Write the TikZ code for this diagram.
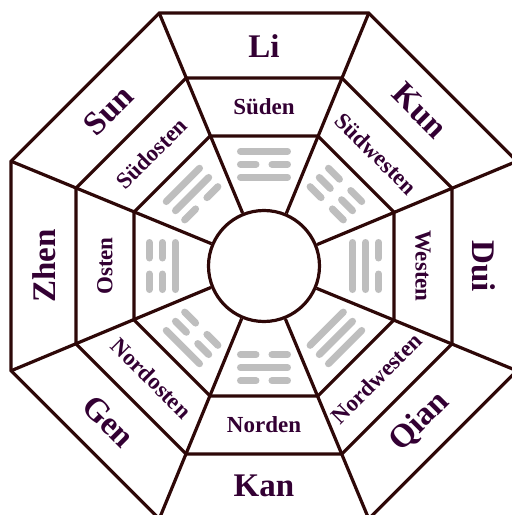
\documentclass[tikz,border=0pt]{standalone}
\usepackage{fontspec}
\setmainfont{Liberation Serif}
\usetikzlibrary{positioning}
\definecolor{Ink}{HTML}{2E0808}
\definecolor{Plum}{HTML}{330033}
\definecolor{Yao}{HTML}{BEBEBE}
% one line of a trigram: #1 = distance from the centre, #2 = 1 solid / 0 broken
\newcommand{\yao}[2]{%
  \ifnum#2=1 \draw[yaoline] (-23.5,#1) -- (23.5,#1);
  \else \draw[yaoline] (-23.5,#1) -- (-8,#1) (8,#1) -- (23.5,#1); \fi}
% trigram at angle #1, lines from inside out
\newcommand{\trigram}[4]{%
  \begin{scope}[rotate=#1-90]
    \yao{88.7}{#2}\yao{101.7}{#3}\yao{114.7}{#4}
  \end{scope}}
\begin{document}
\begin{tikzpicture}[x=1pt,y=1pt,
  wall/.style={line width=3.2pt,draw=Ink},
  yaoline/.style={line width=7pt,draw=Yao,line cap=round},
  guaname/.style={text=Plum,inner sep=0pt,font=\bfseries\fontsize{33}{36}\selectfont},
  dirname/.style={text=Plum,inner sep=0pt,font=\bfseries\fontsize{23}{25}\selectfont}
]
\path[fill=white] (-264,-249) rectangle (248,266);
\useasboundingbox (-264,-249) rectangle (248,266);
% trigrams
\trigram{90}{1}{0}{1}
\trigram{45}{0}{0}{0}
\trigram{0}{1}{1}{0}
\trigram{-45}{1}{1}{1}
\trigram{-90}{0}{1}{0}
\trigram{-135}{0}{0}{1}
\trigram{180}{1}{0}{0}
\trigram{135}{0}{1}{1}
% rings
\foreach \R in {140.7,203.5,273.8}
  \draw[wall] (22.5:\R) \foreach \k in {1,...,7} {-- (22.5+45*\k:\R)} -- cycle;
\node[wall,circle,fill=white,inner sep=0pt,minimum size=111pt] (hub) at (0,0) {};
\foreach \a in {22.5,67.5,...,337.5}
  \draw[wall] (hub.\a) -- (\a:273.8);
% outer names
\node[guaname] (li) at (90:220) {Li};
\node[guaname,rotate=-45] (kun) at (45:220) {Kun};
\node[guaname,rotate=-90] (dui) at (0:220) {Dui};
\node[guaname,rotate=45] (qian) at (-45:220) {Qian};
\node[guaname] (kan) at (-90:220) {Kan};
\node[guaname,rotate=-45] (gen) at (-135:220) {Gen};
\node[guaname,rotate=90] (zhen) at (180:220) {Zhen};
\node[guaname,rotate=45] (sun) at (135:220) {Sun};
% directions
\node[dirname] (sueden) at (90:159) {Süden};
\node[dirname,rotate=-45] (suedwesten) at (45:159) {Südwesten};
\node[dirname,rotate=-90] (westen) at (0:159) {Westen};
\node[dirname,rotate=45] (nordwesten) at (-45:159) {Nordwesten};
\node[dirname] (norden) at (-90:159) {Norden};
\node[dirname,rotate=-45] (nordosten) at (-135:159) {Nordosten};
\node[dirname,rotate=90] (osten) at (180:159) {Osten};
\node[dirname,rotate=45] (suedosten) at (135:159) {Südosten};
\end{tikzpicture}
\end{document}
